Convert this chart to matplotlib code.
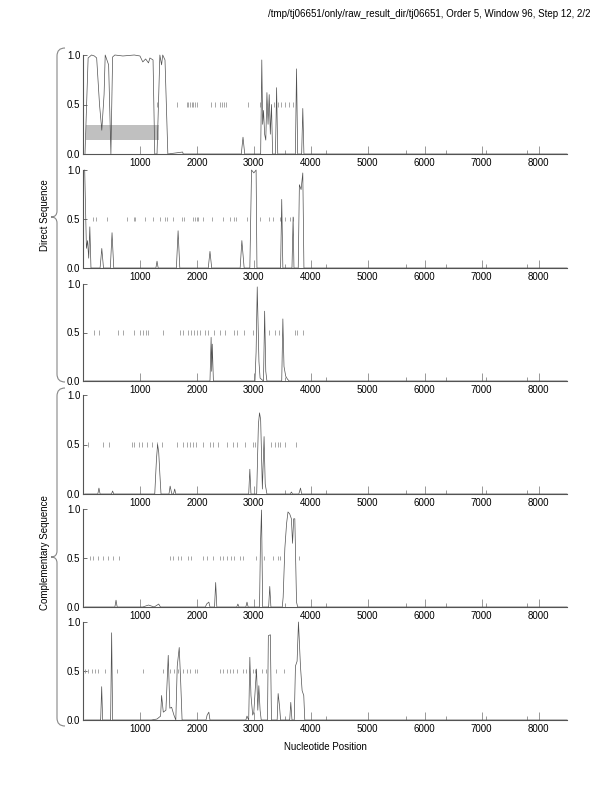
import numpy as np
import matplotlib
matplotlib.use("Agg")
import matplotlib.pyplot as plt
from matplotlib.path import Path
from matplotlib.patches import PathPatch

plt.rcParams['font.family'] = ['Liberation Sans', 'DejaVu Sans']

title = "/tmp/tj06651/only/raw_result_dir/tj06651, Order 5, Window 96, Step 12, 2/2"
x_ticks = [1000, 2000, 3000, 4000, 5000, 6000, 7000, 8000]
minor_ticks = [3540, 4260, 5670, 6370, 7080, 7790]
y_ticks = [0.0, 0.5, 1.0]
group_labels = ["Direct Sequence", "Complementary Sequence"]

# (position, value)
panel1 = [(35, 0.0), (90, 0.97), (150, 1.0), (200, 0.99), (240, 0.97), (290, 0.5), (330, 0.24),
          (370, 0.6), (390, 1.0), (420, 0.95), (450, 0.9), (490, 0.0), (520, 0.98), (560, 1.0),
          (700, 0.99), (900, 1.0), (1000, 0.99), (1050, 0.93), (1100, 0.96), (1150, 0.92),
          (1175, 0.97), (1230, 0.95), (1260, 0.0), (1300, 0.0), (1350, 1.0), (1380, 0.9),
          (1400, 1.0), (1440, 0.95), (1490, 0.0), (1750, 0.02), (1760, 0.0), (2780, 0.0),
          (2810, 0.17), (2840, 0.0), (3120, 0.0), (3140, 0.95), (3155, 0.3), (3170, 0.44),
          (3190, 0.2), (3210, 0.14), (3230, 0.62), (3250, 0.3), (3270, 0.6), (3290, 0.2),
          (3310, 0.5), (3330, 0.0), (3380, 0.0), (3400, 0.67), (3420, 0.0), (3730, 0.0),
          (3750, 0.86), (3770, 0.0), (3840, 0.0), (3860, 0.46), (3880, 0.0), (8500, 0.0)]
panel2 = [(30, 1.0), (60, 0.2), (80, 0.28), (100, 0.1), (120, 0.42), (140, 0.0), (300, 0.0),
          (330, 0.2), (360, 0.0), (480, 0.0), (510, 0.36), (540, 0.0), (1280, 0.0), (1300, 0.07),
          (1320, 0.0), (1640, 0.0), (1670, 0.38), (1700, 0.0), (2200, 0.0), (2230, 0.17),
          (2260, 0.0), (2760, 0.0), (2790, 0.28), (2830, 0.0), (2930, 0.0), (2960, 1.0),
          (3000, 0.97), (3040, 1.0), (3055, 0.0), (3470, 0.0), (3490, 0.7), (3510, 0.0),
          (3670, 0.0), (3690, 0.52), (3705, 0.0), (3780, 0.0), (3800, 0.85), (3830, 0.8),
          (3860, 0.97), (3880, 0.0), (8500, 0.0)]
panel3 = [(30, 0.0), (2230, 0.0), (2250, 0.45), (2260, 0.1), (2270, 0.38), (2290, 0.0),
          (3020, 0.0), (3040, 0.3), (3060, 0.97), (3090, 0.2), (3110, 0.03), (3170, 0.0),
          (3190, 0.72), (3210, 0.1), (3230, 0.0), (3490, 0.0), (3510, 0.64), (3530, 0.15),
          (3560, 0.05), (3590, 0.02), (3620, 0.0), (8500, 0.0)]
panel4 = [(30, 0.0), (260, 0.0), (280, 0.06), (300, 0.0), (500, 0.0), (520, 0.03), (540, 0.0),
          (1260, 0.0), (1290, 0.35), (1310, 0.5), (1330, 0.42), (1350, 0.2), (1370, 0.0),
          (1510, 0.0), (1530, 0.08), (1560, 0.0), (1590, 0.0), (1610, 0.05), (1630, 0.0),
          (2910, 0.0), (2930, 0.25), (2950, 0.0), (3050, 0.0), (3080, 0.7), (3100, 0.82),
          (3120, 0.75), (3150, 0.05), (3180, 0.58), (3200, 0.1), (3230, 0.0), (3640, 0.0),
          (3660, 0.02), (3680, 0.0), (3790, 0.0), (3820, 0.06), (3840, 0.0), (8500, 0.0)]
panel5 = [(30, 0.0), (560, 0.0), (580, 0.07), (600, 0.0), (1050, 0.0), (1150, 0.02), (1250, 0.0),
          (1330, 0.03), (1360, 0.0), (2150, 0.0), (2170, 0.03), (2210, 0.05), (2230, 0.0),
          (2310, 0.0), (2330, 0.25), (2350, 0.0), (2700, 0.0), (2720, 0.03), (2740, 0.0),
          (2860, 0.0), (2880, 0.05), (2900, 0.0), (3100, 0.0), (3115, 0.6), (3135, 0.99),
          (3155, 0.0), (3260, 0.0), (3280, 0.21), (3300, 0.0), (3500, 0.0), (3515, 0.1),
          (3545, 0.6), (3575, 0.85), (3600, 0.97), (3630, 0.95), (3660, 0.9), (3680, 0.65),
          (3700, 0.9), (3720, 0.9), (3750, 0.05), (3770, 0.0), (8500, 0.0)]
panel6 = [(30, 0.0), (310, 0.0), (328, 0.34), (345, 0.0), (485, 0.0), (503, 0.89), (520, 0.0),
          (1200, 0.0), (1300, 0.01), (1363, 0.04), (1380, 0.25), (1410, 0.08), (1456, 0.1),
          (1497, 0.66), (1525, 0.12), (1556, 0.13), (1597, 0.05), (1630, 0.0), (1655, 0.55),
          (1690, 0.74), (1715, 0.4), (1740, 0.0), (2160, 0.0), (2180, 0.05), (2210, 0.08),
          (2230, 0.0), (2860, 0.0), (2880, 0.04), (2910, 0.0), (2930, 0.64), (2950, 0.25),
          (2980, 0.05), (3000, 0.08), (3047, 0.52), (3070, 0.1), (3088, 0.35), (3110, 0.1),
          (3130, 0.0), (3240, 0.0), (3255, 0.86), (3290, 0.87), (3310, 0.0), (3410, 0.0),
          (3427, 0.27), (3450, 0.15), (3470, 0.0), (3630, 0.0), (3649, 0.18), (3670, 0.0),
          (3710, 0.0), (3731, 0.55), (3760, 0.6), (3784, 1.0), (3819, 0.55), (3848, 0.3),
          (3877, 0.25), (3895, 0.0), (8500, 0.0)]

# positions of the small marks drawn at 0.5
marks1 = [1300, 1650, 1820, 1850, 1880, 1910, 1940, 1970, 2000, 2250, 2320, 2400, 2440, 2480,
          2520, 2900, 3100, 3350, 3420, 3480, 3550, 3620, 3680]
marks2 = [181, 228, 415, 766, 895, 912, 1088, 1234, 1351, 1439, 1479, 1584, 1731, 1772, 1935,
          1965, 1994, 2023, 2111, 2257, 2461, 2579, 2649, 2684, 2872, 3105, 3269, 3339, 3456,
          3544, 3632, 3690]
marks3 = [200, 280, 620, 700, 900, 1000, 1050, 1100, 1150, 1400, 1700, 1750, 1850, 1900, 1950,
          2000, 2050, 2150, 2200, 2300, 2400, 2500, 2649, 2696, 2825, 2988, 3269, 3368, 3444,
          3719, 3766, 3865]
marks4 = [93, 356, 461, 854, 895, 988, 1029, 1117, 1205, 1293, 1380, 1644, 1760, 1819, 1877,
          1924, 1977, 2111, 2228, 2286, 2374, 2521, 2637, 2707, 2842, 2988, 3018, 3310, 3368,
          3427, 3468, 3544, 3749]
marks5 = [123, 181, 269, 356, 444, 532, 637, 1526, 1584, 1672, 1714, 1848, 1889, 2111, 2170,
          2286, 2404, 2462, 2521, 2591, 2649, 2754, 2812, 3047, 3175, 3339, 3427, 3456, 3795]
marks6 = [35, 93, 152, 211, 269, 386, 602, 1058, 1409, 1526, 1596, 1672, 1760, 1819, 1877, 1965,
          1994, 2404, 2462, 2521, 2579, 2626, 2696, 2813, 2871, 2988, 3018, 3135, 3222, 3398, 3526]

# shaded region in the first panel
box_x = (47, 1340)
box_y = (0.14, 0.29)

panels = [panel1, panel2, panel3, panel4, panel5, panel6]
marks = [marks1, marks2, marks3, marks4, marks5, marks6]

W, H = 612, 792
fig = plt.figure(figsize=(W / 100, H / 100), dpi=100)

px_rows = [(55, 154), (170, 268), (284, 381), (395, 494), (509, 607), (622, 720)]
left, right = 83, 567
for i, (top, bot) in enumerate(px_rows):
    ax = fig.add_axes([left / W, 1 - bot / H, (right - left) / W, (bot - top) / H])
    ax.set_xlim(0, 8500)
    ax.set_ylim(0, 1.0)
    for s in ["top", "right"]:
        ax.spines[s].set_visible(False)
    for s in ["left", "bottom"]:
        ax.spines[s].set_color("#555555")
        ax.spines[s].set_linewidth(0.8)
    if i == 0:
        ax.fill_between(box_x, box_y[0], box_y[1], color="#c0c0c0", lw=0, zorder=1)
    xs = [p[0] for p in panels[i]]
    ys = [p[1] for p in panels[i]]
    ax.plot(xs, ys, color="#505050", lw=0.5, clip_on=False, zorder=3)
    ax.vlines(marks[i], 0.475, 0.525, color="#999999", lw=0.6, zorder=2)
    ax.set_xticks(x_ticks)
    ax.set_xticklabels([str(t) for t in x_ticks], fontsize=7)
    ax.set_xticks(minor_ticks, minor=True)
    ax.set_yticks(y_ticks)
    ax.set_yticklabels(["%.1f" % t for t in y_ticks], fontsize=7)
    ax.tick_params(axis="x", which="major", direction="in", length=6, width=0.6,
                   color="#888888", pad=3)
    ax.tick_params(axis="x", which="minor", direction="in", length=3, width=0.6,
                   color="#888888")
    ax.tick_params(axis="y", direction="in", length=3, width=0.6, color="#555555", pad=2)

fig.text(590 / W, 1 - 14 / H, title, ha="right", va="center", fontsize=7)
fig.text(325 / W, 1 - 747 / H, "Nucleotide Position", ha="center", va="center", fontsize=7)


def brace(ytop, ybot, ytip, xs=57, xt=51, xe=65):
    pts = [(xe, ytop), (xs, ytop), (xs, ytop + 8), (xs, ytip - 6), (xs, ytip),
           (xt, ytip), (xs, ytip), (xs, ytip + 6), (xs, ybot - 8), (xs, ybot), (xe, ybot)]
    codes = [Path.MOVETO, Path.CURVE3, Path.CURVE3, Path.LINETO, Path.CURVE3, Path.CURVE3,
             Path.CURVE3, Path.CURVE3, Path.LINETO, Path.CURVE3, Path.CURVE3]
    pts = [(x / W, 1 - y / H) for x, y in pts]
    fig.add_artist(PathPatch(Path(pts, codes), fill=False, edgecolor="#888888", lw=0.8,
                             transform=fig.transFigure))


brace(48, 382, 217)
brace(388, 726, 557)
fig.text(45 / W, 1 - 215 / H, group_labels[0], rotation=90, ha="center", va="center", fontsize=7)
fig.text(45 / W, 1 - 553 / H, group_labels[1], rotation=90, ha="center", va="center", fontsize=7)

fig.savefig("out.png", dpi=100)
